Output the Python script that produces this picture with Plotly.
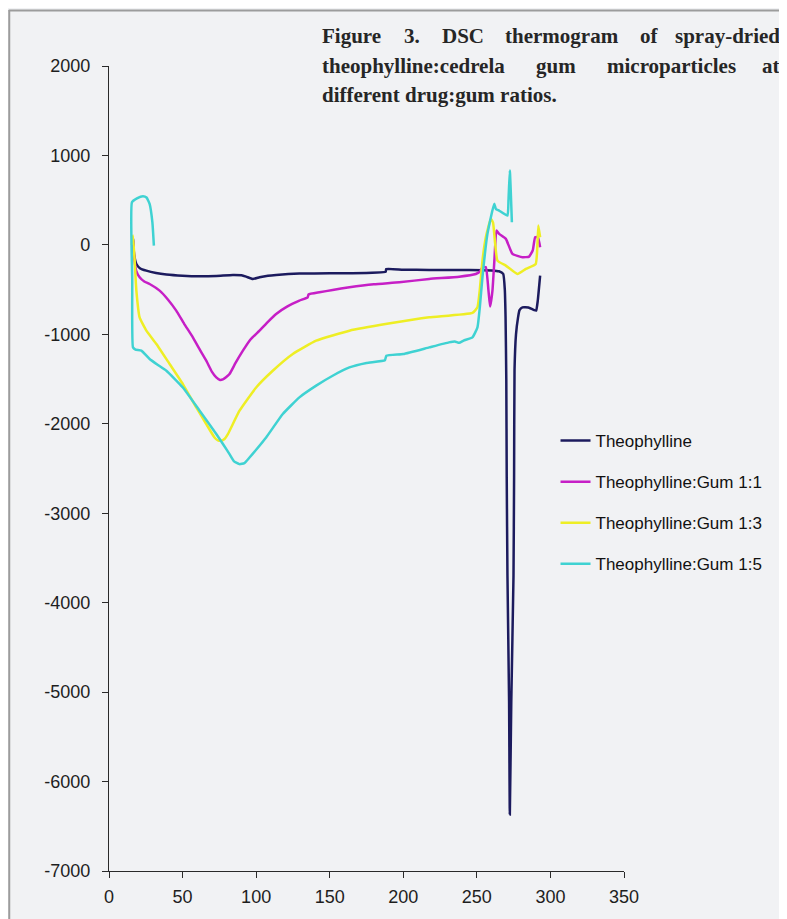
import plotly.graph_objects as go

# ---------------- data ----------------
series_names = ["Theophylline", "Theophylline:Gum 1:1", "Theophylline:Gum 1:3", "Theophylline:Gum 1:5"]

theo_x = [16.3, 17.0, 18.6, 21.0, 25.4, 32.0, 39.0, 50.0, 61.6, 73.0, 84.2, 90.0, 93.2, 97.7, 102.3, 108.0,
          113.6, 129.4, 150.0, 163.4, 188.0, 188.4, 200.0, 217.6, 244.8, 260.0, 265.0, 267.9, 269.0, 269.5,
          270.0, 270.3, 270.8, 271.9, 272.4, 273.4, 274.9, 275.3, 275.6, 276.6, 278.0, 279.0, 281.0, 285.0,
          289.0, 290.3, 291.4, 293.0]
theo_y = [67, -100, -213, -260, -288, -315, -332, -345, -351, -347, -336, -340, -355, -381, -362, -345,
          -336, -321, -317, -317, -300, -269, -278, -280, -280, -285, -295, -325, -500, -800,
          -1500, -2600, -3700, -5100, -6367, -5100, -3700, -2600, -1400, -1000, -810, -730, -698, -700,
          -730, -735, -623, -344]

gum11_x = [16.3, 17.4, 18.5, 20.8, 24.0, 27.6, 34.4, 40.0, 45.7, 51.0, 57.0, 62.0, 66.1, 70.0, 72.9, 75.5,
           77.4, 79.5, 81.9, 86.0, 91.0, 96.0, 102.3, 108.0, 113.6, 121.0, 129.4, 135.0, 135.6, 143.0, 152.0,
           163.4, 180.0, 197.3, 217.6, 238.0, 249.3, 252.0, 253.8, 256.1, 257.9, 259.0, 260.6, 262.0, 263.3,
           265.1, 269.7, 274.2, 281.0, 285.5, 288.0, 289.6, 291.5, 293.0]
gum11_y = [50, -176, -290, -362, -410, -437, -511, -610, -735, -880, -1034, -1180, -1295, -1420, -1482, -1510,
           -1504, -1480, -1444, -1320, -1183, -1060, -959, -860, -772, -690, -623, -586, -555, -530, -504,
           -474, -440, -418, -381, -355, -325, -300, -250, -250, -511, -690, -511, -150, 160,
           123, 67, -101, -138, -131, -60, 85, 85, -27]

gum13_x = [15.5, 16.3, 17.5, 18.6, 20.8, 25.4, 32.2, 41.2, 50.2, 59.3, 66.1, 71.7, 74.0, 76.3, 78.5, 80.8,
           88.7, 100.0, 111.3, 124.9, 140.8, 163.4, 190.0, 217.6, 247.0, 250.4, 252.0, 253.8, 256.1, 259.5,
           261.0, 264.0, 269.7, 277.6, 283.3, 290.0, 291.0, 291.8, 293.0]
gum13_y = [0, 104, -200, -511, -810, -959, -1108, -1332, -1556, -1817, -2003, -2153, -2185, -2190, -2170, -2115,
           -1854, -1594, -1407, -1220, -1071, -959, -880, -810, -761, -698, -500, -176, 85, 291,
           250, -176, -232, -325, -269, -213, -50, 216, 85]

gum15_x = [30.5, 29.5, 27.6, 25.5, 23.1, 19.0, 15.6, 15.8, 16.3, 18.0, 22.0, 27.6, 33.0, 39.0, 50.2, 61.6,
           72.9, 78.0, 81.9, 85.0, 88.7, 92.0, 95.5, 100.0, 106.8, 118.1, 129.4, 140.8, 152.0, 163.4, 175.0,
           187.5, 188.5, 200.0, 217.6, 231.0, 235.0, 238.0, 241.0, 247.0, 250.4, 252.0, 253.8, 257.2, 261.8,
           263.0, 265.1, 270.8, 271.5, 272.4, 273.8]
gum15_y = [-8, 250, 459, 530, 544, 520, 477, -400, -1146, -1170, -1183, -1276, -1340, -1407, -1594, -1854,
           -2115, -2240, -2339, -2420, -2451, -2440, -2377, -2290, -2153, -1891, -1705, -1574, -1463, -1370, -1320,
           -1290, -1240, -1220, -1146, -1090, -1079, -1095, -1070, -1034, -922, -700, -362, 123, 459,
           400, 384, 328, 500, 831, 253]

x_ticks = [0, 50, 100, 150, 200, 250, 300, 350]
y_ticks = [-7000, -6000, -5000, -4000, -3000, -2000, -1000, 0, 1000, 2000]

title_lines = [
    ["Figure", "3.", "DSC", "thermogram", "of", "spray-dried"],
    ["theophylline:cedrela", "gum", "microparticles", "at"],
    ["different drug:gum ratios."],
]

# ---------------- layout helpers (page pixel coords; body has an 8px margin) ----------------
OFF = 8
W, H = 787 - OFF, 919 - OFF
PAGE_X0, PAGE_X1 = 109.3, 624.5   # plot area in page pixels
PAGE_Y0, PAGE_Y1 = 66.0, 871.0
L = PAGE_X0 - OFF
R = W - (PAGE_X1 - OFF)
T = PAGE_Y0 - OFF
B = H - (PAGE_Y1 - OFF)


def px(x):
    return (x - PAGE_X0) / (PAGE_X1 - PAGE_X0)


def py(y):
    return (PAGE_Y1 - y) / (PAGE_Y1 - PAGE_Y0)


colors = ["#1c1b5e", "#c61fc6", "#eeee24", "#3fd2d2"]
xs = [theo_x, gum11_x, gum13_x, gum15_x]
ys = [theo_y, gum11_y, gum13_y, gum15_y]

fig = go.Figure()
for i in range(4):
    fig.add_trace(go.Scatter(
        x=xs[i], y=ys[i], mode="lines", name=series_names[i],
        legendgroup=f"g{i}",
        line=dict(color=colors[i], width=2.5, shape="spline", smoothing=0.4),
    ))

bg = "#f1f2f4"
fig.update_layout(
    width=W, height=H,
    margin=dict(l=L, r=R, t=T, b=B, pad=0),
    paper_bgcolor=bg, plot_bgcolor=bg,
    font=dict(family="Liberation Sans, Arial, sans-serif", color="#1e1e1e"),
    showlegend=True,
    legend=dict(
        x=px(556), y=py(423), xanchor="left", yanchor="top",
        bgcolor="rgba(0,0,0,0)", borderwidth=0,
        font=dict(size=17, color="#111111", family="Liberation Sans, Arial, sans-serif"),
        tracegroupgap=16, itemwidth=30,
    ),
    xaxis=dict(
        range=[0, 350], tickvals=x_ticks, ticktext=[str(v) for v in x_ticks],
        showgrid=False, zeroline=False, showline=True, linecolor="#2a2a2a", linewidth=1.4,
        ticks="outside", ticklen=6, tickcolor="#2a2a2a", tickwidth=1.4,
        tickfont=dict(size=18, color="#1e1e1e"), ticklabelstandoff=3,
    ),
    yaxis=dict(
        range=[-7000, 2000], tickvals=y_ticks, ticktext=[str(v) for v in y_ticks],
        showgrid=False, zeroline=False, showline=True, linecolor="#2a2a2a", linewidth=1.4,
        ticks="outside", ticklen=6, tickcolor="#2a2a2a", tickwidth=1.4,
        tickfont=dict(size=18, color="#1e1e1e"), ticklabelstandoff=8,
    ),
)

# page frame: grey border lines near top-left
fig.add_shape(type="line", xref="paper", yref="paper", x0=px(9.5), x1=px(9.5), y0=py(10), y1=py(919),
              line=dict(color="#9c9c9c", width=2))
fig.add_shape(type="line", xref="paper", yref="paper", x0=px(9), x1=px(787), y0=py(10.5), y1=py(10.5),
              line=dict(color="#9c9c9c", width=2))

# title text, justified by placing words at their start positions
word_x = [
    [(320.7, "left"), (402.0, "left"), (440.0, "left"), (503.5, "left"), (638.5, "left"), (782.7, "right")],
    [(320.7, "left"), (534.5, "left"), (605.0, "left"), (782.7, "right")],
    [(320.7, "left")],
]
line_y = [36, 65.5, 94.5]
for li, words in enumerate(title_lines):
    for wi, w in enumerate(words):
        xp, anc = word_x[li][wi]
        fig.add_annotation(
            text=f"<b>{w}</b>", xref="paper", yref="paper", x=px(xp), y=py(line_y[li]),
            xanchor=anc, yanchor="middle", showarrow=False,
            font=dict(family="Liberation Serif, Times New Roman, serif", size=21, color="#262626"),
        )

fig.write_html("out.html")
